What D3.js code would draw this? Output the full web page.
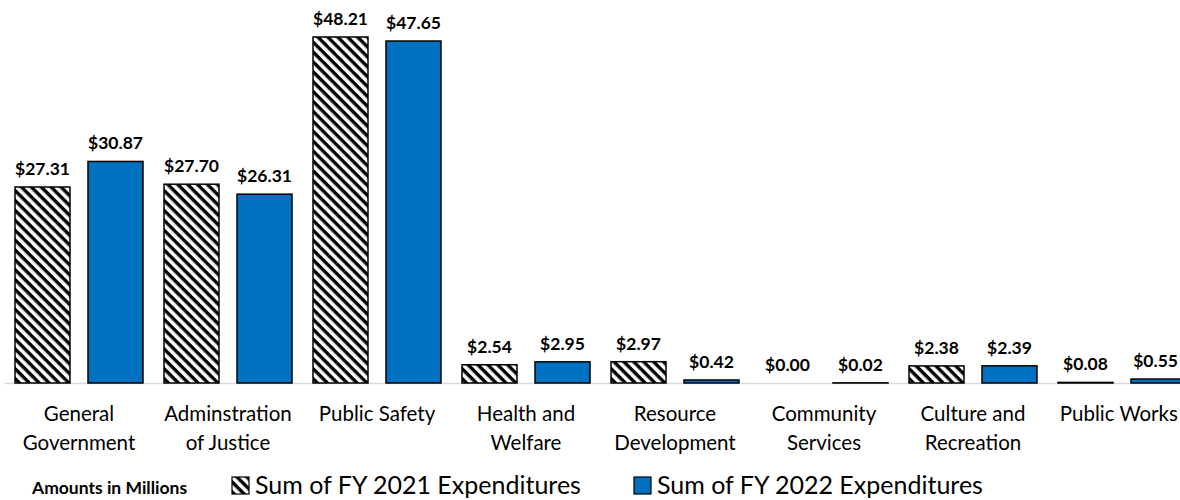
<!DOCTYPE html>
<html>
<head>
<meta charset="utf-8">
<script src="https://cdn.jsdelivr.net/npm/d3@7"></script>
<style>
	body { margin: 0; background: #fff; }
	svg { display: block; font-family: Lato, "Open Sans", sans-serif; }
</style>
</head>
<body>
<div id="chart"></div>
<script>
var categories = [
	["General", "Government"],
	["Adminstration", "of Justice"],
	["Public Safety"],
	["Health and", "Welfare"],
	["Resource", "Development"],
	["Community", "Services"],
	["Culture and", "Recreation"],
	["Public Works"]
];
var fy2021 = [27.31, 27.70, 48.21, 2.54, 2.97, 0.00, 2.38, 0.08];
var fy2022 = [30.87, 26.31, 47.65, 2.95, 0.42, 0.02, 2.39, 0.55];
var seriesNames = ["Sum of FY 2021 Expenditures", "Sum of FY 2022 Expenditures"];

var W = 1180, H = 500;
var svg = d3.select("#chart").append("svg").attr("width", W).attr("height", H);

// hatch pattern for FY 2021 (stripes going down to the right)
var defs = svg.append("defs");
var pat = defs.append("pattern")
	.attr("id", "hatch")
	.attr("patternUnits", "userSpaceOnUse")
	.attr("width", 7).attr("height", 7)
	.attr("patternTransform", "rotate(45)");
pat.append("rect").attr("width", 7).attr("height", 7).attr("fill", "#fff");
pat.append("rect").attr("x", 0).attr("y", 0).attr("width", 7).attr("height", 3.4).attr("fill", "#000");

var fills = ["url(#hatch)", "#0070C0"];

var data = categories.map(function (c, i) {
	return { cat: c.join(" "), lines: c, vals: [fy2021[i], fy2022[i]] };
});

var baseY = 383;
var x = d3.scaleBand()
	.domain(data.map(function (d) { return d.cat; }))
	.range([4.5, 1196.5])
	.paddingInner(0.141)
	.paddingOuter(0.0705);

var x1 = d3.scaleBand()
	.domain([0, 1])
	.range([0, x.bandwidth()])
	.paddingInner(0.2466);

var y = d3.scaleLinear().domain([0, 48.21]).range([baseY, 37]);

// baseline
svg.append("line")
	.attr("x1", 4.5).attr("x2", W)
	.attr("y1", baseY + 0.5).attr("y2", baseY + 0.5)
	.attr("stroke", "#d9d9d9").attr("stroke-width", 1.5);

var groups = svg.selectAll("g.cat")
	.data(data).enter().append("g")
	.attr("class", "cat")
	.attr("transform", function (d) { return "translate(" + x(d.cat) + ",0)"; });

groups.selectAll("rect")
	.data(function (d) { return d.vals.map(function (v, k) { return { v: v, k: k }; }); })
	.enter().append("rect")
	.attr("x", function (d) { return x1(d.k); })
	.attr("y", function (d) { return y(d.v); })
	.attr("width", x1.bandwidth())
	.attr("height", function (d) { return baseY - y(d.v); })
	.attr("fill", function (d) { return fills[d.k]; })
	.attr("stroke", "#000")
	.attr("stroke-width", 1.5);

groups.selectAll("text.val")
	.data(function (d) { return d.vals.map(function (v, k) { return { v: v, k: k }; }); })
	.enter().append("text")
	.attr("class", "val")
	.attr("x", function (d) { return x1(d.k) + x1.bandwidth() / 2; })
	.attr("y", function (d) { return y(d.v) - 12; })
	.attr("text-anchor", "middle")
	.attr("font-size", 17.5)
	.attr("font-weight", "bold")
	.attr("fill", "#000")
	.text(function (d) { return "$" + d.v.toFixed(2); });

// category labels
groups.append("text")
	.attr("class", "cat-label")
	.attr("text-anchor", "middle")
	.attr("font-size", 20.5)
	.attr("fill", "#000")
	.selectAll("tspan")
	.data(function (d) { return d.lines; })
	.enter().append("tspan")
	.attr("x", x.bandwidth() / 2)
	.attr("y", function (d, i) { return 421 + i * 29; })
	.text(function (d) { return d; });

// keep texts inside the right edge
svg.selectAll("text").each(function () {
	var b = this.getBBox();
	var gx = this.parentNode.getCTM ? this.getCTM().e : 0;
	var over = gx + b.x + b.width - (W - 2);
	if (over > 0) {
		var el = d3.select(this);
		var shift = function (s) { return function () { var v = +d3.select(this).attr("x"); d3.select(this).attr("x", v - over); }; };
		if (el.selectAll("tspan").size()) el.selectAll("tspan").each(shift());
		else el.each(shift());
	}
});

// legend
svg.append("text")
	.attr("x", 32).attr("y", 494)
	.attr("font-size", 17.5).attr("font-weight", "bold")
	.text("Amounts in Millions");

var legX = [232, 634];
seriesNames.forEach(function (name, k) {
	svg.append("rect")
		.attr("x", legX[k]).attr("y", 477)
		.attr("width", 17).attr("height", 17)
		.attr("fill", fills[k]).attr("stroke", "#000").attr("stroke-width", 1.2);
	svg.append("text")
		.attr("x", legX[k] + 23).attr("y", 494)
		.attr("font-size", 25)
		.text(name);
});
</script>
</body>
</html>
